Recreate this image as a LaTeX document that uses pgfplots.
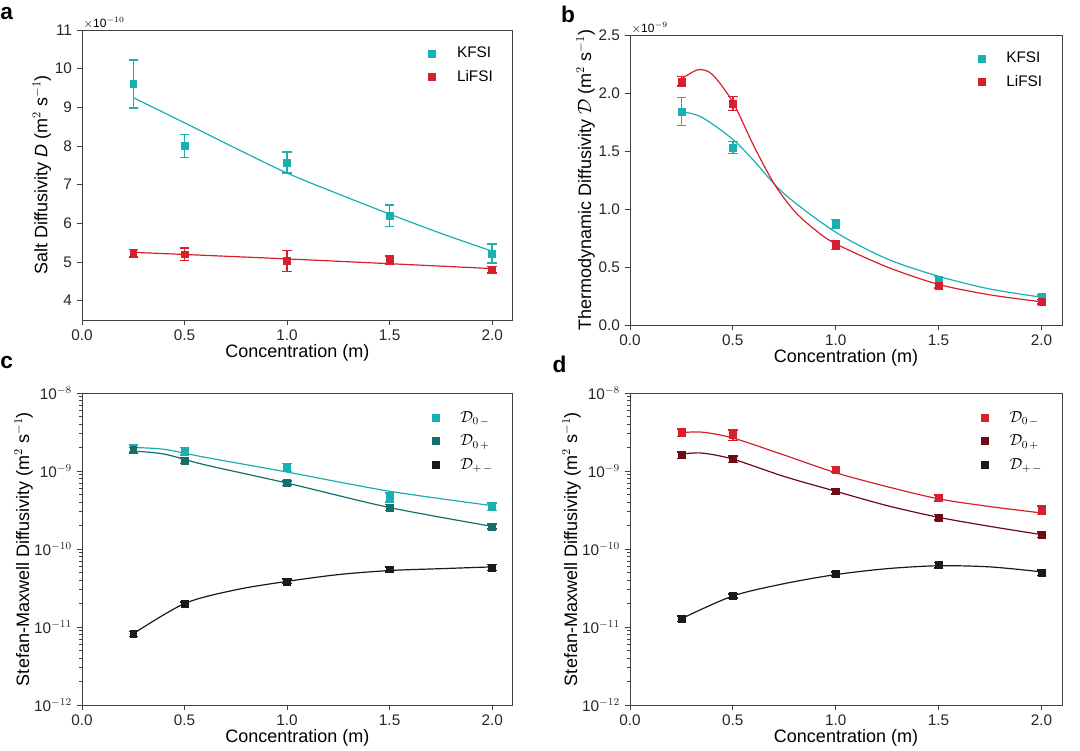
\documentclass[border=0pt]{standalone}
\usepackage{pgfplots}
\pgfplotsset{compat=1.18}
\usepackage{fontspec}
\setmainfont{Liberation Sans}
\definecolor{teal1}{HTML}{1AAFB0}
\definecolor{red1}{HTML}{D7202E}
\definecolor{dteal}{HTML}{166E6C}
\definecolor{dred}{HTML}{6E0A16}
\definecolor{blk}{HTML}{1A1A1A}
\pgfplotsset{
 pan/.style={scale only axis, clip mode=individual, xmin=0, xmax=2.1, xtick={0,0.5,1,1.5,2},
  xticklabels={0.0,0.5,1.0,1.5,2.0},
  tick align=outside, xtick pos=bottom, ytick pos=left,
  /pgf/number format/assume math mode=true,
  tick label style={font=\fontsize{11.5}{13}\selectfont, color=black!85},
  label style={font=\fontsize{13.5}{16}\selectfont},
  xlabel={Concentration (m)}, xlabel style={yshift=4pt},
  axis line style={black!75, line width=0.6pt},
  major tick length=4pt, minor tick length=2pt,
  every tick/.style={black!75, line width=0.6pt},
  legend style={draw=none, fill=none, at={(0.97,0.96)}, anchor=north east,
    font=\fontsize{11.5}{14}\selectfont, row sep=4pt,
    /tikz/every odd column/.append style={column sep=14pt}},
  legend cell align=left,
  legend image code/.code={\pgfuseplotmark{square*}},
 },
 dat/.style={only marks, mark=square*, mark size=2.6pt, color=#1,
  error bars/.cd, y dir=both, y explicit,
  error bar style={line width=1.1pt, #1},
  error mark options={rotate=90, mark size=3.5pt, line width=1.1pt, #1}},
 fit/.style={smooth, no marks, line width=0.9pt, color=#1, forget plot},
}
\begin{document}
\begin{tikzpicture}
\path (0,0) rectangle (810pt,560.25pt);
% ---- a
\begin{axis}[pan, at={(61.5pt,320.25pt)}, anchor=south west, width=323pt, height=217.5pt,
 ymin=3.5, ymax=11, ytick={4,5,...,11},
 ylabel={Salt Diffusivity \textit{D} (m$^2$ s$^{-1}$)}, ylabel style={yshift=-4pt}]
\addplot[fit=teal1] coordinates {(0.25,9.25)(0.5,8.6)(0.75,7.94)(1.0,7.3)(1.25,6.76)(1.5,6.24)(1.75,5.74)(2.0,5.28)};
\addplot[fit=red1] coordinates {(0.25,5.25)(1.0,5.08)(2.0,4.83)};
\addplot[dat=teal1] table[y error index=2] {
0.25 9.6 0.62
0.5 8.0 0.3
1.0 7.57 0.27
1.5 6.2 0.28
2.0 5.22 0.25
};
\addlegendentry{KFSI}
\addplot[dat=red1] table[y error index=2] {
0.25 5.23 0.1
0.5 5.2 0.16
1.0 5.03 0.27
1.5 5.05 0.1
2.0 4.8 0.08
};
\addlegendentry{LiFSI}
\node[anchor=south west, font=\fontsize{9}{10}\selectfont, inner sep=1pt] at (rel axis cs:0,1) {$\times$10$^{-10}$};
\node[anchor=north west, font=\bfseries\fontsize{17}{18}\selectfont, inner sep=0pt] at (rel axis cs:-0.19,1.08) {a};
\end{axis}
% ---- b
\begin{axis}[pan, at={(472.5pt,316.5pt)}, anchor=south west, width=324pt, height=217.5pt,
 ymin=0, ymax=2.5, ytick={0,0.5,...,2.5}, yticklabels={0.0,0.5,1.0,1.5,2.0,2.5},
 ylabel={Thermodynamic Diffusivity $\mathcal{D}$ (m$^2$ s$^{-1}$)}, ylabel style={yshift=-4pt}]
\addplot[fit=teal1] coordinates {(0.25,1.84)(0.35,1.79)(0.5,1.6)(0.6,1.42)(0.75,1.13)(1.0,0.8)(1.25,0.57)(1.5,0.42)(1.75,0.31)(2.0,0.24)};
\addplot[fit=red1] coordinates {(0.25,2.12)(0.33,2.2)(0.4,2.16)(0.5,1.92)(0.6,1.55)(0.7,1.22)(0.8,0.98)(0.9,0.82)(1.0,0.7)(1.25,0.5)(1.5,0.35)(1.75,0.26)(2.0,0.2)};
\addplot[dat=teal1] table[y error index=2] {
0.25 1.84 0.12
0.5 1.53 0.05
1.0 0.87 0.04
1.5 0.39 0.03
2.0 0.24 0.02
};
\addlegendentry{KFSI}
\addplot[dat=red1] table[y error index=2] {
0.25 2.1 0.04
0.5 1.91 0.06
1.0 0.69 0.04
1.5 0.34 0.02
2.0 0.2 0.02
};
\addlegendentry{LiFSI}
\node[anchor=south west, font=\fontsize{9}{10}\selectfont, inner sep=1pt] at (rel axis cs:0,1) {$\times$10$^{-9}$};
\node[anchor=north west, font=\bfseries\fontsize{17}{18}\selectfont, inner sep=0pt] at (rel axis cs:-0.16,1.1) {b};
\end{axis}
% ---- c
\begin{axis}[pan, at={(61.5pt,31.5pt)}, anchor=south west, width=323pt, height=234pt,
 ymode=log, ymin=1e-12, ymax=1e-8, ytick={1e-12,1e-11,1e-10,1e-9,1e-8},
 yticklabels={10$^{-12}$,10$^{-11}$,10$^{-10}$,10$^{-9}$,10$^{-8}$},
 minor ytick={2e-12,3e-12,4e-12,5e-12,6e-12,7e-12,8e-12,9e-12,2e-11,3e-11,4e-11,5e-11,6e-11,7e-11,8e-11,9e-11,2e-10,3e-10,4e-10,5e-10,6e-10,7e-10,8e-10,9e-10,2e-9,3e-9,4e-9,5e-9,6e-9,7e-9,8e-9,9e-9},
 ylabel={Stefan-Maxwell Diffusivity (m$^2$ s$^{-1}$)}, ylabel style={yshift=-6pt}]
\addplot[fit=teal1] coordinates {(0.25,2.0e-9)(0.4,1.9e-9)(0.6,1.5e-9)(1.0,9.7e-10)(1.5,5.5e-10)(2.0,3.6e-10)};
\addplot[fit=dteal] coordinates {(0.25,1.8e-9)(0.4,1.65e-9)(0.6,1.2e-9)(1.0,7.0e-10)(1.5,3.4e-10)(2.0,1.95e-10)};
\addplot[fit=blk] coordinates {(0.25,8.2e-12)(0.5,2.0e-11)(0.75,3.0e-11)(1.0,3.85e-11)(1.25,4.7e-11)(1.5,5.3e-11)(1.75,5.6e-11)(2.0,5.9e-11)};
\addplot[dat=teal1] table[y error plus index=2, y error minus index=3] {
0.25 1.95e-9 0.2e-9 0.2e-9
0.5 1.8e-9 0.2e-9 0.2e-9
1.0 1.12e-9 0.13e-9 0.13e-9
1.5 4.6e-10 0.6e-10 0.6e-10
2.0 3.5e-10 0.4e-10 0.4e-10
};
\addlegendentry{$\mathcal{D}_{0\,-}$}
\addplot[dat=dteal] table[y error plus index=2, y error minus index=3] {
0.25 1.85e-9 0.15e-9 0.15e-9
0.5 1.37e-9 0.12e-9 0.12e-9
1.0 7.0e-10 0.5e-10 0.5e-10
1.5 3.4e-10 0.3e-10 0.3e-10
2.0 1.95e-10 0.15e-10 0.15e-10
};
\addlegendentry{$\mathcal{D}_{0\,+}$}
\addplot[dat=blk] table[y error plus index=2, y error minus index=3] {
0.25 8.2e-12 0.6e-12 0.6e-12
0.5 2.0e-11 0.1e-11 0.1e-11
1.0 3.85e-11 0.25e-11 0.25e-11
1.5 5.5e-11 0.4e-11 0.4e-11
2.0 5.8e-11 0.5e-11 0.5e-11
};
\addlegendentry{$\mathcal{D}_{+\,-}$}
\node[anchor=north west, font=\bfseries\fontsize{17}{18}\selectfont, inner sep=0pt] at (rel axis cs:-0.19,1.12) {c};
\end{axis}
% ---- d
\begin{axis}[pan, at={(472.5pt,31.5pt)}, anchor=south west, width=324pt, height=234pt,
 ymode=log, ymin=1e-12, ymax=1e-8, ytick={1e-12,1e-11,1e-10,1e-9,1e-8},
 yticklabels={10$^{-12}$,10$^{-11}$,10$^{-10}$,10$^{-9}$,10$^{-8}$},
 minor ytick={2e-12,3e-12,4e-12,5e-12,6e-12,7e-12,8e-12,9e-12,2e-11,3e-11,4e-11,5e-11,6e-11,7e-11,8e-11,9e-11,2e-10,3e-10,4e-10,5e-10,6e-10,7e-10,8e-10,9e-10,2e-9,3e-9,4e-9,5e-9,6e-9,7e-9,8e-9,9e-9},
 ylabel={Stefan-Maxwell Diffusivity (m$^2$ s$^{-1}$)}, ylabel style={yshift=-6pt}]
\addplot[fit=red1] coordinates {(0.25,3.1e-9)(0.35,3.15e-9)(0.5,2.65e-9)(0.75,1.6e-9)(1.0,9.5e-10)(1.25,6.3e-10)(1.5,4.4e-10)(1.75,3.5e-10)(2.0,2.9e-10)};
\addplot[fit=dred] coordinates {(0.25,1.65e-9)(0.35,1.7e-9)(0.5,1.42e-9)(0.75,8.5e-10)(1.0,5.5e-10)(1.25,3.6e-10)(1.5,2.55e-10)(1.75,1.95e-10)(2.0,1.53e-10)};
\addplot[fit=blk] coordinates {(0.25,1.28e-11)(0.5,2.5e-11)(0.75,3.6e-11)(1.0,4.7e-11)(1.25,5.6e-11)(1.5,6.1e-11)(1.75,5.9e-11)(2.0,5.1e-11)};
\addplot[dat=red1] table[y error plus index=2, y error minus index=3] {
0.25 3.1e-9 0.35e-9 0.35e-9
0.5 2.9e-9 0.45e-9 0.45e-9
1.0 1.05e-9 0.1e-9 0.1e-9
1.5 4.5e-10 0.4e-10 0.4e-10
2.0 3.15e-10 0.4e-10 0.4e-10
};
\addlegendentry{$\mathcal{D}_{0\,-}$}
\addplot[dat=dred] table[y error plus index=2, y error minus index=3] {
0.25 1.6e-9 0.15e-9 0.15e-9
0.5 1.42e-9 0.13e-9 0.13e-9
1.0 5.5e-10 0.4e-10 0.4e-10
1.5 2.55e-10 0.2e-10 0.2e-10
2.0 1.53e-10 0.12e-10 0.12e-10
};
\addlegendentry{$\mathcal{D}_{0\,+}$}
\addplot[dat=blk] table[y error plus index=2, y error minus index=3] {
0.25 1.28e-11 0.1e-11 0.1e-11
0.5 2.5e-11 0.15e-11 0.15e-11
1.0 4.8e-11 0.3e-11 0.3e-11
1.5 6.2e-11 0.5e-11 0.5e-11
2.0 5.0e-11 0.4e-11 0.4e-11
};
\addlegendentry{$\mathcal{D}_{+\,-}$}
\node[anchor=north west, font=\bfseries\fontsize{17}{18}\selectfont, inner sep=0pt] at (rel axis cs:-0.18,1.12) {d};
\end{axis}
\end{tikzpicture}
\end{document}
